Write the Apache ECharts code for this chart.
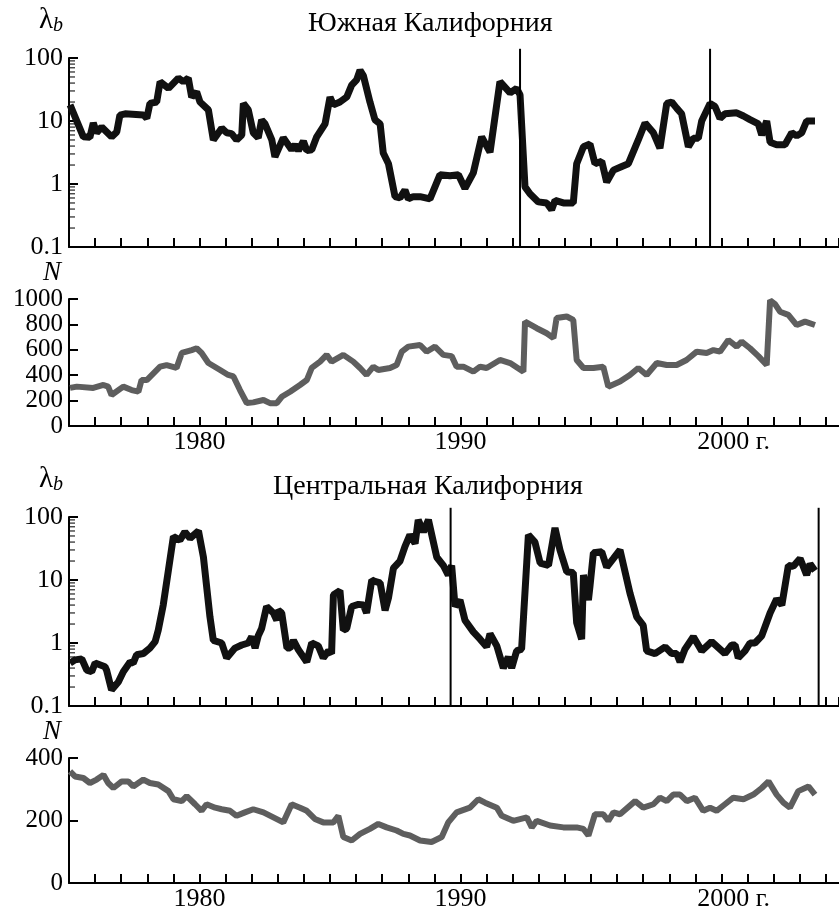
<!DOCTYPE html>
<html>
<head>
<meta charset="utf-8">
<script src="https://cdn.jsdelivr.net/npm/echarts@6/dist/echarts.min.js"></script>
<style>
  html, body { margin: 0; padding: 0; background: #fff; }
  #chart { width: 839px; height: 912px; }
</style>
</head>
<body>
<div id="chart"></div>
<script>
// Южная Калифорния, lambda_b
var southLamYears = [1975.04,1975.55,1975.80,1975.93,1976.06,1976.25,1976.63,1976.83,1976.95,1977.15,1977.85,1977.98,1978.10,1978.36,1978.49,1978.81,1979.19,1979.38,1979.57,1979.70,1979.89,1980.02,1980.34,1980.53,1980.85,1981.04,1981.23,1981.42,1981.62,1981.68,1981.87,1982.06,1982.25,1982.38,1982.51,1982.77,1982.89,1983.21,1983.53,1983.66,1983.79,1983.98,1984.11,1984.30,1984.49,1984.81,1985.00,1985.13,1985.38,1985.64,1985.83,1986.02,1986.15,1986.28,1986.53,1986.72,1986.92,1987.04,1987.24,1987.49,1987.68,1987.87,1988.00,1988.19,1988.45,
  1988.83,1989.21,1989.60,1989.92,1990.17,1990.49,1990.81,1991.13,1991.51,1991.90,1992.15,1992.28,1992.47,1992.66,1992.98,1993.30,1993.49,1993.62,1993.94,1994.32,1994.45,1994.71,1994.96,1995.15,1995.41,1995.60,1995.86,1996.18,1996.43,1996.81,1997.07,1997.39,1997.64,1997.90,1998.09,1998.28,1998.47,1998.73,1998.92,1999.11,1999.24,1999.56,1999.75,1999.94,2000.13,2000.58,2000.84,2001.09,2001.41,2001.54,2001.73,2001.86,2002.11,2002.43,2002.69,2002.88,2003.07,2003.26,2003.58];
var southLam = [18,5.6,5.5,9.3,6.5,8,5.6,6.7,12.4,13,12.5,11,19,20,42,33,48,42,48,24,29,20,15,5,7.7,6.5,6.3,5,6,19,15,6.5,5.4,10.4,9,5,2.7,5.4,3.5,4.2,3.4,4.8,3.4,3.5,5.6,9,24,18,20,24,37,45,64,52,20,10.5,9,3.1,2.1,0.63,0.6,0.8,0.58,0.63,0.63,
  0.58,1.4,1.35,1.4,0.85,1.5,5.6,3.2,42,28,33,26,0.9,0.7,0.52,0.5,0.39,0.55,0.5,0.5,2.1,3.9,4.3,2.1,2.3,1.07,1.66,1.9,2.1,5,9.3,6.5,3.7,19,20,16,13,3.9,5.3,5.3,10,19,17,11,13,13.5,12,10.5,9,6,10,4.6,4.2,4.2,6.5,5.8,6.5,10,10];
var southBreaks = [1992.28, 1999.56];

// Южная Калифорния, N
var southNYears = [1975.04,1975.30,1975.93,1976.32,1976.50,1976.63,1977.08,1977.40,1977.66,1977.78,1977.98,1978.49,1978.74,1979.12,1979.32,1979.70,1979.89,1980.08,1980.34,1980.79,1981.10,1981.30,1981.55,1981.81,1982.06,1982.45,1982.70,1982.96,1983.15,1983.47,1983.85,1984.11,1984.30,1984.62,1984.87,1985.06,1985.51,1985.89,1986.15,1986.40,1986.66,1986.85,1987.30,1987.55,1987.75,1988.00,1988.45,
  1988.70,1989.02,1989.34,1989.66,1989.85,1990.11,1990.49,1990.75,1991.00,1991.51,1991.90,1992.41,1992.47,1992.92,1993.30,1993.56,1993.68,1994.07,1994.32,1994.45,1994.71,1995.09,1995.47,1995.66,1996.11,1996.49,1996.81,1997.13,1997.52,1997.90,1998.28,1998.66,1999.05,1999.43,1999.69,1999.94,2000.26,2000.58,2000.77,2001.09,2001.41,2001.73,2001.86,2002.05,2002.24,2002.56,2002.88,2003.20,2003.58];
var southN = [300,310,300,323,310,244,310,283,270,362,362,467,480,457,575,598,612,575,496,441,402,390,283,181,186,205,180,180,230,270,323,362,457,507,560,507,560,507,457,402,467,441,457,480,585,625,638,
  585,625,560,550,467,467,428,467,457,520,496,428,822,770,730,692,850,862,835,520,457,457,467,310,350,402,457,402,496,480,480,520,585,575,598,585,677,625,665,612,550,480,990,960,900,875,795,822,795];

// Центральная Калифорния, lambda_b
var centralLamYears = [1975.04,1975.23,1975.49,1975.68,1975.87,1976.00,1976.38,1976.44,1976.63,1976.89,1977.08,1977.34,1977.46,1977.59,1977.85,1978.10,1978.30,1978.42,1978.61,1978.81,1979.00,1979.25,1979.44,1979.64,1979.96,1980.15,1980.40,1980.53,1980.85,1981.04,1981.36,1981.62,1981.87,1982.00,1982.13,1982.25,1982.38,1982.57,1982.83,1982.96,1983.02,1983.15,1983.35,1983.47,1983.60,1983.79,1984.11,1984.30,1984.55,1984.74,1984.94,1985.06,1985.13,1985.38,1985.51,1985.64,1985.83,1986.09,1986.28,1986.40,1986.60,1986.72,1986.92,1987.11,1987.24,1987.43,1987.68,1987.87,1988.06,1988.26,1988.38,
  1988.45,1988.58,1988.77,1989.09,1989.34,1989.53,1989.66,1989.79,1989.98,1990.17,1990.49,1990.75,1991.00,1991.13,1991.39,1991.64,1991.83,1991.96,1992.15,1992.34,1992.60,1992.85,1993.05,1993.37,1993.62,1993.81,1994.07,1994.32,1994.45,1994.64,1994.71,1994.90,1994.96,1995.09,1995.41,1995.60,1995.86,1996.11,1996.49,1996.75,1997.00,1997.13,1997.45,1997.84,1998.09,1998.28,1998.41,1998.60,1998.92,1999.24,1999.62,2000.13,2000.39,2000.52,2000.64,2000.90,2001.09,2001.28,2001.54,2001.86,2002.11,2002.31,2002.56,2002.75,2003.01,2003.26,2003.39,2003.58];
var centralLam = [0.48,0.54,0.56,0.37,0.35,0.48,0.42,0.37,0.18,0.24,0.35,0.5,0.48,0.65,0.68,0.83,1.05,1.6,4,14.4,49,43,58,46,60,23,2.6,1.1,1.0,0.58,0.83,0.93,1.0,1.26,0.83,1.3,1.7,3.8,3,2.3,3.3,3,0.83,0.83,1.1,0.78,0.5,1.0,0.9,0.58,0.75,0.68,5.8,6.8,1.6,1.7,3.8,4.1,4,3,10,9.5,9,3.3,5.2,15.4,20,34,52,38,90,
  84,58,90,23,17,12,17,3.8,4.8,2.3,1.5,1.15,0.87,1.4,0.9,0.4,0.6,0.4,0.75,0.8,52,40,18.6,17,67,30,13.5,13,2.1,1.15,12,4.8,8,27,28,16,22,30,6.2,2.6,1.9,0.75,0.68,0.87,0.68,0.68,0.5,0.8,1.26,0.75,1.05,0.68,0.93,0.93,0.58,0.75,1.0,1.0,1.3,3,5,4,17,16.5,22,12,18,14];
var centralBreaks = [1989.62, 2003.72];

// Центральная Калифорния, N
var centralNYears = [1975.04,1975.23,1975.55,1975.80,1976.06,1976.32,1976.50,1976.70,1977.02,1977.27,1977.46,1977.85,1978.10,1978.42,1978.81,1979.00,1979.32,1979.51,1979.83,1980.08,1980.27,1980.60,1980.85,1981.17,1981.42,1981.74,1982.06,1982.45,1982.83,1983.21,1983.53,1983.85,1984.11,1984.42,1984.74,1985.13,1985.32,1985.51,1985.83,1986.15,1986.53,1986.85,1987.17,1987.55,1987.81,1988.06,1988.45,
  1988.89,1989.28,1989.53,1989.85,1990.36,1990.68,1990.94,1991.39,1991.58,1992.02,1992.54,1992.73,1992.92,1993.43,1993.94,1994.45,1994.71,1994.90,1995.15,1995.47,1995.66,1995.86,1996.11,1996.69,1997.00,1997.39,1997.64,1997.90,1998.15,1998.41,1998.67,1998.98,1999.30,1999.56,1999.81,2000.13,2000.45,2000.84,2001.22,2001.54,2001.80,2002.11,2002.37,2002.62,2002.94,2003.33,2003.58];
var centralN = [357,341,336,320,331,346,320,304,325,325,309,331,320,315,294,268,262,278,252,231,252,241,236,231,215,226,236,226,210,194,252,241,231,205,194,194,215,147,136,157,173,189,178,168,157,152,136,
  131,147,194,226,241,268,257,241,215,199,210,178,199,184,178,178,173,152,220,220,199,226,220,262,241,252,273,262,283,283,262,273,231,241,231,252,273,268,283,304,325,283,257,241,294,309,283];

// tick labels
var yearLabels = [1980, 1990, 2000];
var logLabels = [0.1, 1, 10, 100];
var logMinor = [0.2,0.3,0.4,0.5,0.6,0.7,0.8,0.9,2,3,4,5,6,7,8,9,20,30,40,50,60,70,80,90];

var XMIN = 1975, XMAX = 2004.5;
var LAM_MIN = 0.1, LAM_TOP = 140; // vertical break lines reach a bit above the frame
var FONT = '"Liberation Serif", "DejaVu Serif", serif';

function pairs(xs, ys) {
  return xs.map(function (x, i) { return [x, ys[i]]; });
}

function xAxisFor(idx, withLabels) {
  return {
    type: 'value', gridIndex: idx, min: XMIN, max: XMAX, interval: 1,
    axisLine: { show: true, onZero: false, lineStyle: { color: '#000', width: 2 } },
    axisTick: { show: true, inside: true, length: 9, lineStyle: { color: '#000', width: 2 } },
    splitLine: { show: false },
    axisLabel: {
      show: withLabels, color: '#000', fontFamily: FONT, fontSize: 26, margin: 3,
      showMinLabel: false, showMaxLabel: false,
      formatter: function (v) {
        if (yearLabels.indexOf(v) < 0) return '';
        return v === 2000 ? '{g|2000 г.}' : String(v);
      },
      rich: { g: { color: '#000', fontFamily: FONT, fontSize: 26, padding: [0, 0, 0, 24] } }
    }
  };
}

var lamName = {
  name: '{l|λ}{b|b}',
  nameLocation: 'end',
  nameGap: 22,
  nameTextStyle: {
    align: 'right', padding: [0, 6, 0, 0],
    rich: {
      l: { fontFamily: FONT, fontSize: 29, color: '#000', lineHeight: 28 },
      b: { fontFamily: FONT, fontSize: 20, fontStyle: 'italic', color: '#000', verticalAlign: 'bottom', padding: [12, 0, 0, 0] }
    }
  }
};

function logYAxis(idx) {
  return Object.assign({
    type: 'log', logBase: 10, gridIndex: idx, min: LAM_MIN, max: 100,
    axisLine: { show: true, lineStyle: { color: '#000', width: 2 } },
    axisTick: { show: true, inside: true, length: 9, lineStyle: { color: '#000', width: 2 } },
    splitLine: { show: false },
    axisLabel: {
      color: '#000', fontFamily: FONT, fontSize: 26, margin: 6,
      showMinLabel: true, showMaxLabel: true,
      formatter: function (v) {
        for (var i = 0; i < logLabels.length; i++) {
          if (Math.abs(v - logLabels[i]) < logLabels[i] * 1e-6) return String(logLabels[i]);
        }
        return '';
      }
    }
  }, lamName);
}

function nYAxis(idx, max) {
  return {
    type: 'value', gridIndex: idx, min: 0, max: max, interval: 200,
    name: 'N', nameLocation: 'end', nameGap: 10,
    nameTextStyle: { fontFamily: FONT, fontSize: 27, fontStyle: 'italic', color: '#000', align: 'right', padding: [0, 8, 0, 0] },
    axisLine: { show: true, lineStyle: { color: '#000', width: 2 } },
    axisTick: { show: true, inside: true, length: 9, lineStyle: { color: '#000', width: 2 } },
    splitLine: { show: false },
    axisLabel: { color: '#000', fontFamily: FONT, fontSize: 25, lineHeight: 18, margin: 6,
      interval: 0, showMinLabel: true, showMaxLabel: true, hideOverlap: false,
      formatter: function (v) { return String(v); } }
  };
}

function lamSeries(idx, xs, ys) {
  return {
    type: 'line', xAxisIndex: idx, yAxisIndex: idx,
    data: pairs(xs, ys), showSymbol: false, symbol: 'none', silent: true,
    lineStyle: { color: '#111', width: 7 }
  };
}

// thin vertical marker line, one series per break year
function breakSeries(idx, year) {
  return {
    type: 'line', xAxisIndex: idx, yAxisIndex: idx, clip: false,
    data: [[year, LAM_MIN], [year, LAM_TOP]], showSymbol: false, symbol: 'none', silent: true,
    lineStyle: { color: '#000', width: 2 }
  };
}

function nSeries(idx, xs, ys) {
  return {
    type: 'line', xAxisIndex: idx, yAxisIndex: idx,
    data: pairs(xs, ys), showSymbol: false, symbol: 'none', silent: true,
    lineStyle: { color: '#5e5e5e', width: 6 }
  };
}

// minor log ticks on the inside of the y axis
function minorTicks(idx) {
  return {
    type: 'scatter', xAxisIndex: idx, yAxisIndex: idx, silent: true, clip: false,
    data: logMinor.map(function (v) { return [XMIN, v]; }),
    symbol: 'rect', symbolSize: [6, 1.3], symbolOffset: [3, 0],
    itemStyle: { color: '#000' }
  };
}

var titleStyle = { fontFamily: FONT, fontSize: 28, fontWeight: 'normal', color: '#000' };

var series = [
  lamSeries(0, southLamYears, southLam),
  minorTicks(0),
  nSeries(1, southNYears, southN),
  lamSeries(2, centralLamYears, centralLam),
  minorTicks(2),
  nSeries(3, centralNYears, centralN)
];
southBreaks.forEach(function (b) { series.push(breakSeries(0, b)); });
centralBreaks.forEach(function (b) { series.push(breakSeries(2, b)); });

var option = {
  animation: false,
  backgroundColor: '#fff',
  title: [
    { text: 'Южная Калифорния', left: 308, top: 10, padding: 0, textStyle: titleStyle },
    { text: 'Центральная Калифорния', left: 273, top: 473, padding: 0, textStyle: titleStyle }
  ],
  grid: [
    { left: 69, right: 0, top: 58, height: 189 },
    { left: 69, right: 0, top: 299, height: 127 },
    { left: 69, right: 0, top: 517, height: 189 },
    { left: 69, right: 0, top: 758, height: 127 }
  ],
  xAxis: [xAxisFor(0, false), xAxisFor(1, true), xAxisFor(2, false), xAxisFor(3, true)],
  yAxis: [logYAxis(0), nYAxis(1, 1000), logYAxis(2), nYAxis(3, 400)],
  series: series
};

var chart = echarts.init(document.getElementById('chart'), null, { renderer: 'canvas' });
chart.setOption(option);
</script>
</body>
</html>
